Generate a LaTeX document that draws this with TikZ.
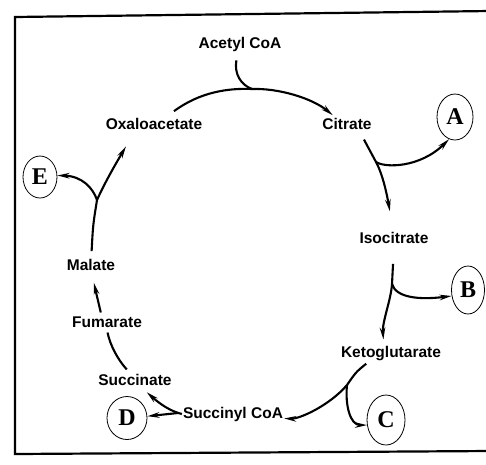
\documentclass[tikz,border=0pt]{standalone}
\usepackage{fontspec}
\setmainfont{Liberation Serif}
\setsansfont{Liberation Sans}
\usetikzlibrary{arrows.meta, shapes.geometric}

\begin{document}
\begin{tikzpicture}[x=1pt, y=-1pt,
    compound/.style={font=\sffamily\bfseries\fontsize{15.5}{18}\selectfont, inner sep=1pt},
    product/.style={ellipse, draw, line width=0.8pt, inner sep=0pt,
      minimum width=36pt, minimum height=46pt, font=\bfseries\fontsize{24}{26}\selectfont},
    link/.style={line width=2.1pt},
    flow/.style={link, -{Stealth[length=12pt, width=5.5pt]}}]
  \useasboundingbox (0,0) rectangle (486,464);

  % Frame
  \draw [line width=2.2pt] (490,11) -- (15,17) -- (15,454) -- (490,451);

  % Compounds of the cycle
  \node [compound] (acetyl)  at (240,44)  {Acetyl CoA};
  \node [compound] (oxalo)   at (154,124) {Oxaloacetate};
  \node [compound] (citrate) at (347,124) {Citrate};
  \node [compound] (isocit)  at (394,238) {Isocitrate};
  \node [compound] (keto)    at (391,354) {Ketoglutarate};
  \node [compound] (succoa)  at (233,414) {Succinyl CoA};
  \node [compound] (succ)    at (135,380) {Succinate};
  \node [compound] (fum)     at (107,322) {Fumarate};
  \node [compound] (malate)  at (91,265)  {Malate};

  % Products leaving the cycle
  \node [product] (A) at (455,117) {A};
  \node [product, minimum width=33pt, minimum height=48pt] (B) at (468,290) {B};
  \node [product, minimum width=38pt, minimum height=50pt] (C) at (386,420) {C};
  \node [product, minimum width=40pt, minimum height=43pt] (D) at (127,418) {D};
  \node [product, minimum width=34pt, minimum height=42pt] (E) at (40,177) {E};

  % Branch points
  \coordinate (acj) at (252,89);
  \coordinate (cj)  at (376,162);
  \coordinate (ij)  at (392,284);
  \coordinate (kj)  at (347,385);
  \coordinate (dj)  at (178,413);
  \coordinate (mj)  at (97,200);

  % Acetyl CoA joins oxaloacetate
  \draw [flow, shorten <=10pt, shorten >=3pt] (oxalo.30)
    .. controls (200,92) and (228,88) .. (acj)
    .. controls (278,88) and (312,98) .. (citrate.150);
  \draw [link, shorten <=8pt] (acetyl.255) .. controls (234,74) and (241,85) .. (acj);

  % Citrate to isocitrate, A leaves
  \draw [flow, shorten <=10pt, shorten >=20pt] (citrate.-30)
    .. controls (370,150) .. (cj)
    .. controls (383,175) and (387,195) .. (isocit.95);
  \draw [flow] (cj) .. controls (385,168) and (420,168) .. (A.255);

  % Isocitrate to ketoglutarate, B leaves
  \draw [flow, shorten <=19pt, shorten >=6pt] (isocit.270) -- (ij)
    .. controls (391,300) and (382,322) .. (keto.130);
  \draw [flow] (ij) .. controls (396,298) and (420,300) .. (B.200);

  % Ketoglutarate to succinyl CoA, C leaves
  \draw [flow, shorten <=2pt] (keto.-160)
    .. controls (356,372) .. (kj)
    .. controls (330,405) and (300,419) .. (succoa.-5);
  \draw [flow] (kj) .. controls (345,405) and (350,425) .. (C.195);

  % Succinyl CoA to succinate, D leaves
  \draw [flow, shorten >=8pt] (succoa.west) .. controls (170,411) and (160,404) .. (succ.-50);
  \draw [flow] (dj) -- (D.5);

  % Succinate, fumarate, malate
  \draw [link, shorten <=5pt, shorten >=4pt] (succ.125) .. controls (118,360) and (110,345) .. (fum.-92);
  \draw [flow, shorten <=3pt, shorten >=11pt] (fum.130) -- (malate.-88);

  % Malate back to oxaloacetate, E leaves
  \draw [flow, shorten <=7pt, shorten >=18pt] (malate.88)
    .. controls (93,225) .. (mj)
    .. controls (106,180) and (118,160) .. (oxalo.-160);
  \draw [flow] (mj) .. controls (93,188) and (82,176) .. (E.5);
\end{tikzpicture}
\end{document}
